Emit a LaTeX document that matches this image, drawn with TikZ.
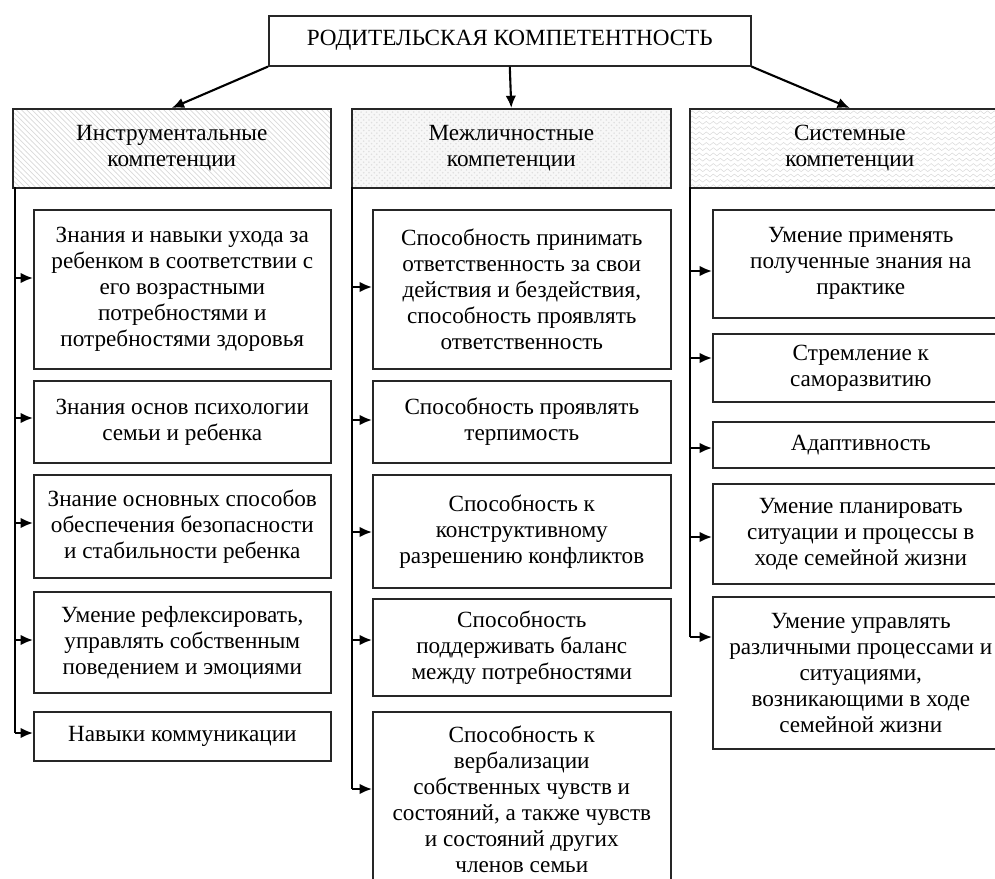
\documentclass[tikz,border=0pt]{standalone}
\usepackage{fontspec}
\setmainfont{Liberation Serif}
\usetikzlibrary{arrows.meta,patterns}
\pgfdeclarepatternformonly{zigzag}{\pgfqpoint{-1pt}{-1pt}}{\pgfqpoint{5pt}{4pt}}{\pgfqpoint{4pt}{3pt}}{%
\pgfsetlinewidth{0.3pt}
\pgfpathmoveto{\pgfqpoint{0pt}{0.6pt}}
\pgfpathlineto{\pgfqpoint{2pt}{2.2pt}}
\pgfpathlineto{\pgfqpoint{4pt}{0.6pt}}
\pgfusepath{stroke}}
\tikzset{
  box/.style={draw=black!85,line width=0.9pt,align=center,inner sep=0pt,anchor=north west,
    font=\fontsize{13.2}{14.8}\selectfont},
  sz/.style 2 args={minimum width=#1*0.02cm,minimum height=#2*0.02cm},
  arr/.style={line width=1.2pt,-{Latex[length=7pt,width=6pt]}},
  trunk/.style={line width=1.3pt},
}
\begin{document}
\begin{tikzpicture}[x=0.02cm,y=-0.02cm]
\path[use as bounding box,clip](0,0)rectangle(995,879);
%
\node[box,sz={482}{50}](rk)at(268,15){РОДИТЕЛЬСКАЯ КОМПЕТЕНТНОСТЬ};
\node[box,sz={318}{79},pattern=north west lines,pattern color=gray!30](hi)at(12,108){Инструментальные\\компетенции};
\node[box,sz={319}{79},preaction={fill=gray!6},pattern=crosshatch dots,pattern color=gray!25](hm)at(351,108){Межличностные\\компетенции};
\node[box,sz={320}{79},pattern=zigzag,pattern color=gray!30](hs)at(689,108){Системные\\компетенции};
\draw[arr](rk.south west)--(hi.north);
\draw[arr](rk.south)--(hm.north);
\draw[arr](rk.south east)--(hs.north);
%===========================
\node[box,sz={297}{159}](i1)at(33,209){Знания и навыки ухода за\\ребенком в соответствии с\\его возрастными\\потребностями и\\потребностями здоровья};
\node[box,sz={297}{82}](i2)at(33,380){Знания основ психологии\\семьи и ребенка};
\node[box,sz={297}{103}](i3)at(33,474){Знание основных способов\\обеспечения безопасности\\и стабильности ребенка};
\node[box,sz={297}{101}](i4)at(33,591){Умение рефлексировать,\\управлять собственным\\поведением и эмоциями};
\node[box,sz={297}{49}](i5)at(33,711){Навыки коммуникации};
\coordinate(ti)at(15,187);
\draw[trunk](ti)--(ti|-0,733);
\foreach \n/\y in {i1/278,i2/418,i3/523,i4/640,i5/733}{\draw[arr](ti|-0,\y)--(\n.west|-0,\y);}
%===========================
\node[box,sz={298}{159}](m1)at(372,209){Способность принимать\\ответственность за свои\\действия и бездействия,\\способность проявлять\\ответственность};
\node[box,sz={298}{82}](m2)at(372,380){Способность проявлять\\терпимость};
\node[box,sz={298}{113}](m3)at(372,474){Способность к\\конструктивному\\разрешению конфликтов};
\node[box,sz={298}{97}](m4)at(372,598){Способность\\поддерживать баланс\\между потребностями};
\node[box,sz={298}{176}](m5)at(372,711){Способность к\\вербализации\\собственных чувств и\\состояний, а также чувств\\и состояний других\\членов семьи};
\coordinate(tm)at(352,187);
\draw[trunk](tm)--(tm|-0,789);
\foreach \n/\y in {m1/287,m2/420,m3/532,m4/640,m5/789}{\draw[arr](tm|-0,\y)--(\n.west|-0,\y);}
%===========================
\node[box,sz={296}{108}](s1)at(712,209){Умение применять\\полученные знания на\\практике};
\node[box,sz={296}{68}](s2)at(712,333){Стремление к\\саморазвитию};
\node[box,sz={296}{46}](s3)at(712,421){Адаптивность};
\node[box,sz={296}{100}](s4)at(712,483){Умение планировать\\ситуации и процессы в\\ходе семейной жизни};
\node[box,sz={296}{152}](s5)at(712,596){Умение управлять\\различными процессами и\\ситуациями,\\возникающими в ходе\\семейной жизни};
\coordinate(ts)at(690,187);
\draw[trunk](ts)--(ts|-0,637);
\foreach \n/\y in {s1/271,s2/358,s3/448,s4/537,s5/637}{\draw[arr](ts|-0,\y)--(\n.west|-0,\y);}
\end{tikzpicture}
\end{document}
